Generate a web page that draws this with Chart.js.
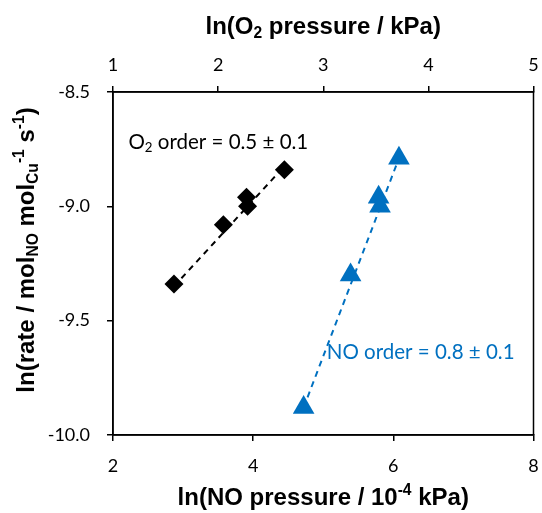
<!DOCTYPE html>
<html>
<head>
<meta charset="utf-8">
<script src="https://cdn.jsdelivr.net/npm/chart.js@4/dist/chart.umd.min.js"></script>
<style>
  html, body { margin: 0; padding: 0; background: #fff; overflow: hidden; }
  #wrap { width: 542px; height: 513px; overflow: hidden; }
</style>
</head>
<body>
<div id="wrap"><canvas id="orderPlot" width="546" height="513"></canvas></div>
<script>
// O2 series (top axis: ln O2 pressure / kPa)
var o2X = [1.58, 2.05, 2.27, 2.28, 2.63];
var o2Y = [-9.34, -9.08, -8.96, -9.00, -8.84];
var o2FitX = [1.58, 2.63];
var o2FitY = [-9.35, -8.825];

// NO series (bottom axis: ln NO pressure / 1e-4 kPa)
var noX = [4.72, 5.39, 5.79, 5.81, 6.08];
var noY = [-9.88, -9.30, -8.96, -9.00, -8.79];
var noFitX = [4.72, 6.08];
var noFitY = [-9.88, -8.79];

var bottomTicks = [2, 4, 6, 8];
var topTicks = [1, 2, 3, 4, 5];
var yTicks = [-10.0, -9.5, -9.0, -8.5];

var blue = '#0070C0';

function pts(xs, ys) {
  var out = [];
  for (var i = 0; i < xs.length; i++) out.push({x: xs[i], y: ys[i]});
  return out;
}

// draws text made of pieces, some sub/superscript
function richWidth(ctx, parts, size, weight, family) {
  var w = 0;
  parts.forEach(function (p) {
    var s = p.sub || p.sup ? size * 0.65 : size;
    ctx.font = weight + ' ' + s + 'px ' + family;
    w += ctx.measureText(p.t).width;
  });
  return w;
}
function drawRich(ctx, parts, x, y, size, weight, family, color, align) {
  var w = richWidth(ctx, parts, size, weight, family);
  var cx = align === 'center' ? x - w / 2 : x;
  ctx.fillStyle = color;
  ctx.textBaseline = 'middle';
  ctx.textAlign = 'left';
  parts.forEach(function (p) {
    var s = p.sub || p.sup ? size * 0.65 : size;
    var dy = p.sub ? size * 0.28 : (p.sup ? -size * 0.3 : 0);
    ctx.font = weight + ' ' + s + 'px ' + family;
    ctx.fillText(p.t, cx, y + dy);
    cx += ctx.measureText(p.t).width;
  });
}

var titleFont = '"Liberation Sans", Arial, sans-serif';
var textFont = 'Lato, "Open Sans", sans-serif';

var labelsPlugin = {
  id: 'labelsPlugin',
  afterDraw: function (chart) {
    var ctx = chart.ctx, a = chart.chartArea;
    var xs = chart.scales.x, ys = chart.scales.y;
    ctx.save();
    // box
    ctx.strokeStyle = '#000';
    ctx.lineWidth = 1.5;
    ctx.strokeRect(a.left, a.top, a.right - a.left, a.bottom - a.top);

    var cx = (a.left + a.right) / 2;
    drawRich(ctx, [{t: 'ln(O'}, {t: '2', sub: true}, {t: ' pressure / kPa)'}],
      cx, 27, 24, 'bold', titleFont, '#000', 'center');
    drawRich(ctx, [{t: 'ln(NO pressure / 10'}, {t: '-4', sup: true}, {t: ' kPa)'}],
      cx, 498, 24, 'bold', titleFont, '#000', 'center');

    ctx.save();
    ctx.translate(27, 250);
    ctx.rotate(-Math.PI / 2);
    drawRich(ctx, [{t: 'ln(rate / mol'}, {t: 'NO', sub: true}, {t: ' mol'}, {t: 'Cu', sub: true},
      {t: '-1', sup: true}, {t: ' s'}, {t: '-1', sup: true}, {t: ')'}],
      0, 0, 24, 'bold', titleFont, '#000', 'center');
    ctx.restore();

    drawRich(ctx, [{t: 'O'}, {t: '2', sub: true}, {t: ' order = 0.5 ± 0.1'}],
      xs.getPixelForValue(2.22), ys.getPixelForValue(-8.72), 20.5, 'normal', textFont, '#000', 'left');
    drawRich(ctx, [{t: 'NO order = 0.8 ± 0.1'}],
      xs.getPixelForValue(5.05), ys.getPixelForValue(-9.64), 20.5, 'normal', textFont, blue, 'left');
    ctx.restore();
  }
};

var tickFont = {family: textFont, size: 18};

new Chart(document.getElementById('orderPlot'), {
  type: 'scatter',
  data: {
    datasets: [{
      label: 'O2 fit',
      data: pts(o2FitX, o2FitY),
      xAxisID: 'x2',
      showLine: true,
      borderColor: '#000',
      borderWidth: 2,
      borderDash: [6, 5],
      pointRadius: 0
    }, {
      label: 'NO fit',
      data: pts(noFitX, noFitY),
      xAxisID: 'x',
      showLine: true,
      borderColor: blue,
      borderWidth: 2,
      borderDash: [6, 5],
      pointRadius: 0
    }, {
      label: 'O2',
      data: pts(o2X, o2Y),
      xAxisID: 'x2',
      pointStyle: 'rectRot',
      pointRadius: 9.5,
      backgroundColor: '#000',
      borderColor: '#000',
      borderWidth: 0
    }, {
      label: 'NO',
      data: pts(noX, noY),
      xAxisID: 'x',
      pointStyle: 'triangle',
      pointRadius: 12.5,
      backgroundColor: blue,
      borderColor: blue,
      borderWidth: 0
    }]
  },
  options: {
    responsive: false,
    animation: false,
    layout: {padding: {left: 0, right: 5, top: 0, bottom: 0}},
    plugins: {legend: {display: false}, tooltip: {enabled: false}},
    scales: {
      x: {
        type: 'linear', position: 'bottom', min: 2, max: 8,
        afterBuildTicks: function (s) { s.ticks = bottomTicks.map(function (v) { return {value: v}; }); },
        afterFit: function (s) { s.height = 78; s.paddingRight = 0; s.paddingLeft = 0; },
        ticks: {font: tickFont, color: '#000', padding: 14},
        grid: {drawOnChartArea: false, color: '#000', tickLength: 6, lineWidth: 1.5},
        border: {color: '#000', width: 1.5}
      },
      x2: {
        type: 'linear', position: 'top', min: 1, max: 5,
        afterBuildTicks: function (s) { s.ticks = topTicks.map(function (v) { return {value: v}; }); },
        afterFit: function (s) { s.height = 92; s.paddingRight = 0; s.paddingLeft = 0; },
        ticks: {font: tickFont, color: '#000', padding: 10},
        grid: {drawOnChartArea: false, color: '#000', tickLength: 6, lineWidth: 1.5},
        border: {color: '#000', width: 1.5}
      },
      y: {
        type: 'linear', min: -10, max: -8.5,
        afterBuildTicks: function (s) { s.ticks = yTicks.map(function (v) { return {value: v}; }); },
        afterFit: function (s) { s.width = 113; s.paddingTop = 0; s.paddingBottom = 0; },
        ticks: {font: tickFont, color: '#000', padding: 17,
          callback: function (v) { return Number(v).toFixed(1); }},
        grid: {drawOnChartArea: false, color: '#000', tickLength: 6, lineWidth: 1.5},
        border: {color: '#000', width: 1.5}
      }
    }
  },
  plugins: [labelsPlugin]
});
</script>
</body>
</html>
